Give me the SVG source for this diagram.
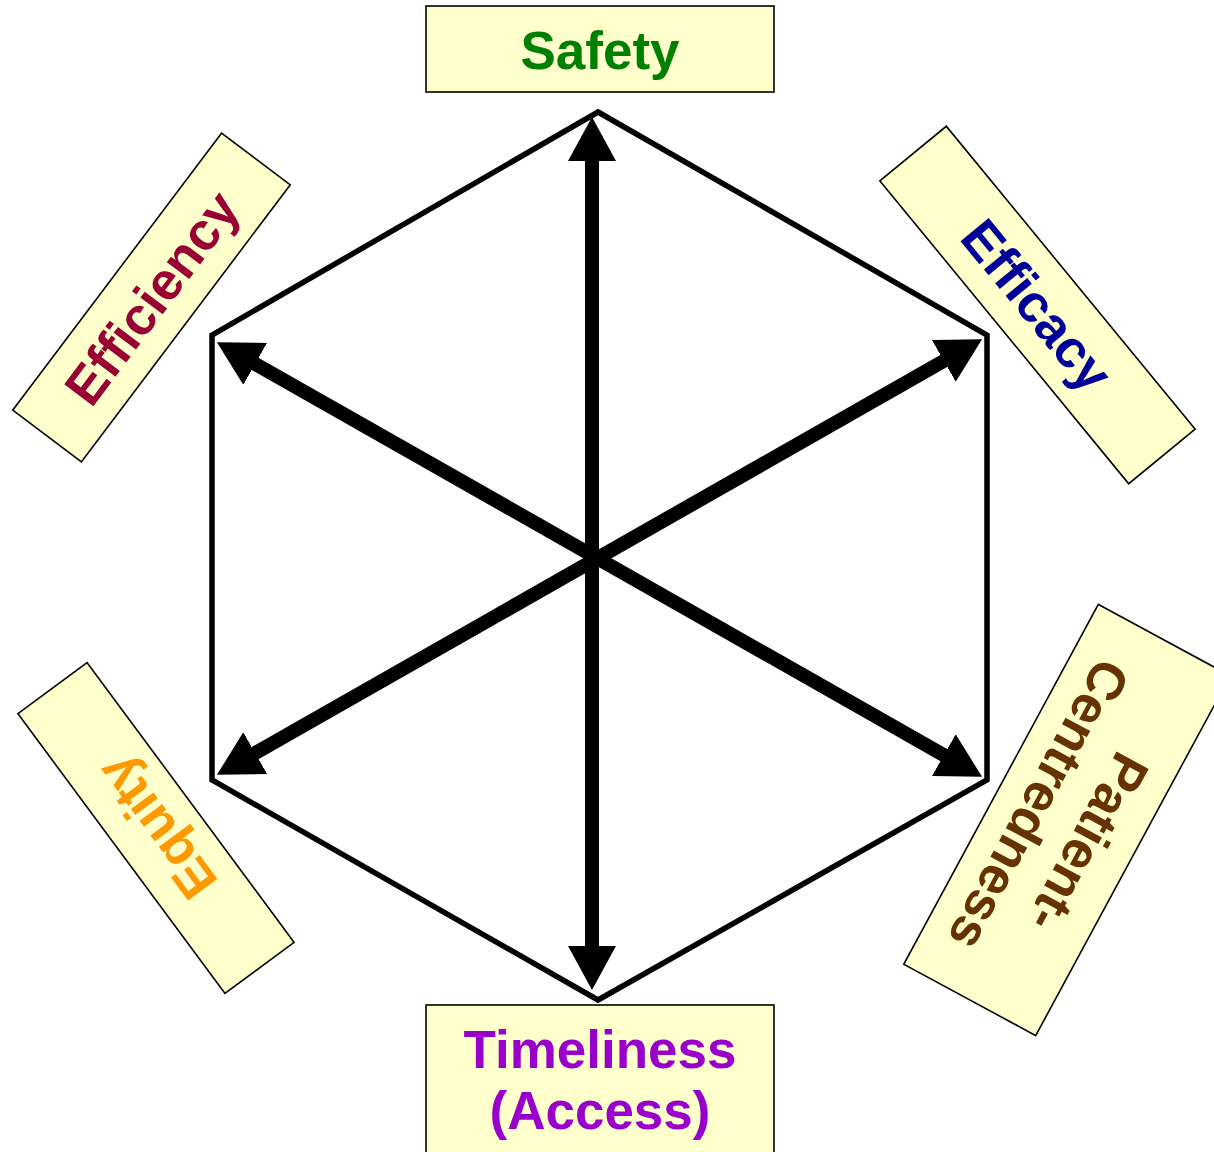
<svg xmlns="http://www.w3.org/2000/svg" width="1214" height="1152" viewBox="0 0 1214 1152">
<style>
.box{fill:#FFFFCC;stroke:#000;stroke-width:1.6}
.lbl{font-family:"Liberation Sans",Arial,sans-serif;font-weight:bold;font-size:53px;text-anchor:middle}
.hex{fill:none;stroke:#000;stroke-width:5.5;stroke-linejoin:miter}
.arr{stroke:#000;stroke-width:14;fill:none;marker-start:url(#ah);marker-end:url(#ah)}
</style>
<defs>
<marker id="ah" markerUnits="userSpaceOnUse" viewBox="0 -24 44 48" refX="14" refY="0" markerWidth="44" markerHeight="48" orient="auto-start-reverse">
<path d="M0,-24 L44,0 L0,24 z" fill="#000"/>
</marker>
</defs>
<rect width="1214" height="1152" fill="#fff"/>
<g id="hexagon">
<polygon class="hex" points="598,112 987,335 987,780 598,1000 212,780 212,335"/>
</g>
<g id="connectors">
<line class="arr" x1="592" y1="147" x2="592" y2="960"/>
<line class="arr" x1="243" y1="357" x2="956" y2="762"/>
<line class="arr" x1="956" y1="354" x2="243" y2="760"/>
</g>
<g id="safety">
<rect class="box" x="426" y="6" width="348" height="86"/>
<text class="lbl" x="600" y="69" fill="#008000">Safety</text>
</g>
<g id="timeliness">
<rect class="box" x="426" y="1005" width="348" height="160"/>
<text class="lbl" x="600" y="1068" fill="#9900CC">Timeliness</text>
<text class="lbl" x="600" y="1129" fill="#9900CC">(Access)</text>
</g>
<g id="efficiency" transform="translate(151.5,297.5) rotate(-53)">
<rect class="box" x="-173.5" y="-43" width="347" height="86"/>
<text class="lbl" x="0" y="19" fill="#990033">Efficiency</text>
</g>
<g id="efficacy" transform="translate(1037.5,305) rotate(50.6)">
<rect class="box" x="-196" y="-43" width="392" height="86"/>
<text class="lbl" x="0" y="19" fill="#000099">Efficacy</text>
</g>
<g id="patient-centredness" transform="translate(1067,820) rotate(118.4)">
<rect class="box" x="-204.5" y="-75" width="409" height="150"/>
<text class="lbl" x="10" y="-11" fill="#663300">Patient-</text>
<text class="lbl" x="0" y="50" fill="#663300">Centredness</text>
</g>
<g id="equity" transform="translate(156,828) rotate(233.5)">
<rect class="box" x="-174" y="-43" width="348" height="86"/>
<text class="lbl" x="0" y="19" fill="#FF9900">Equity</text>
</g>
</svg>
